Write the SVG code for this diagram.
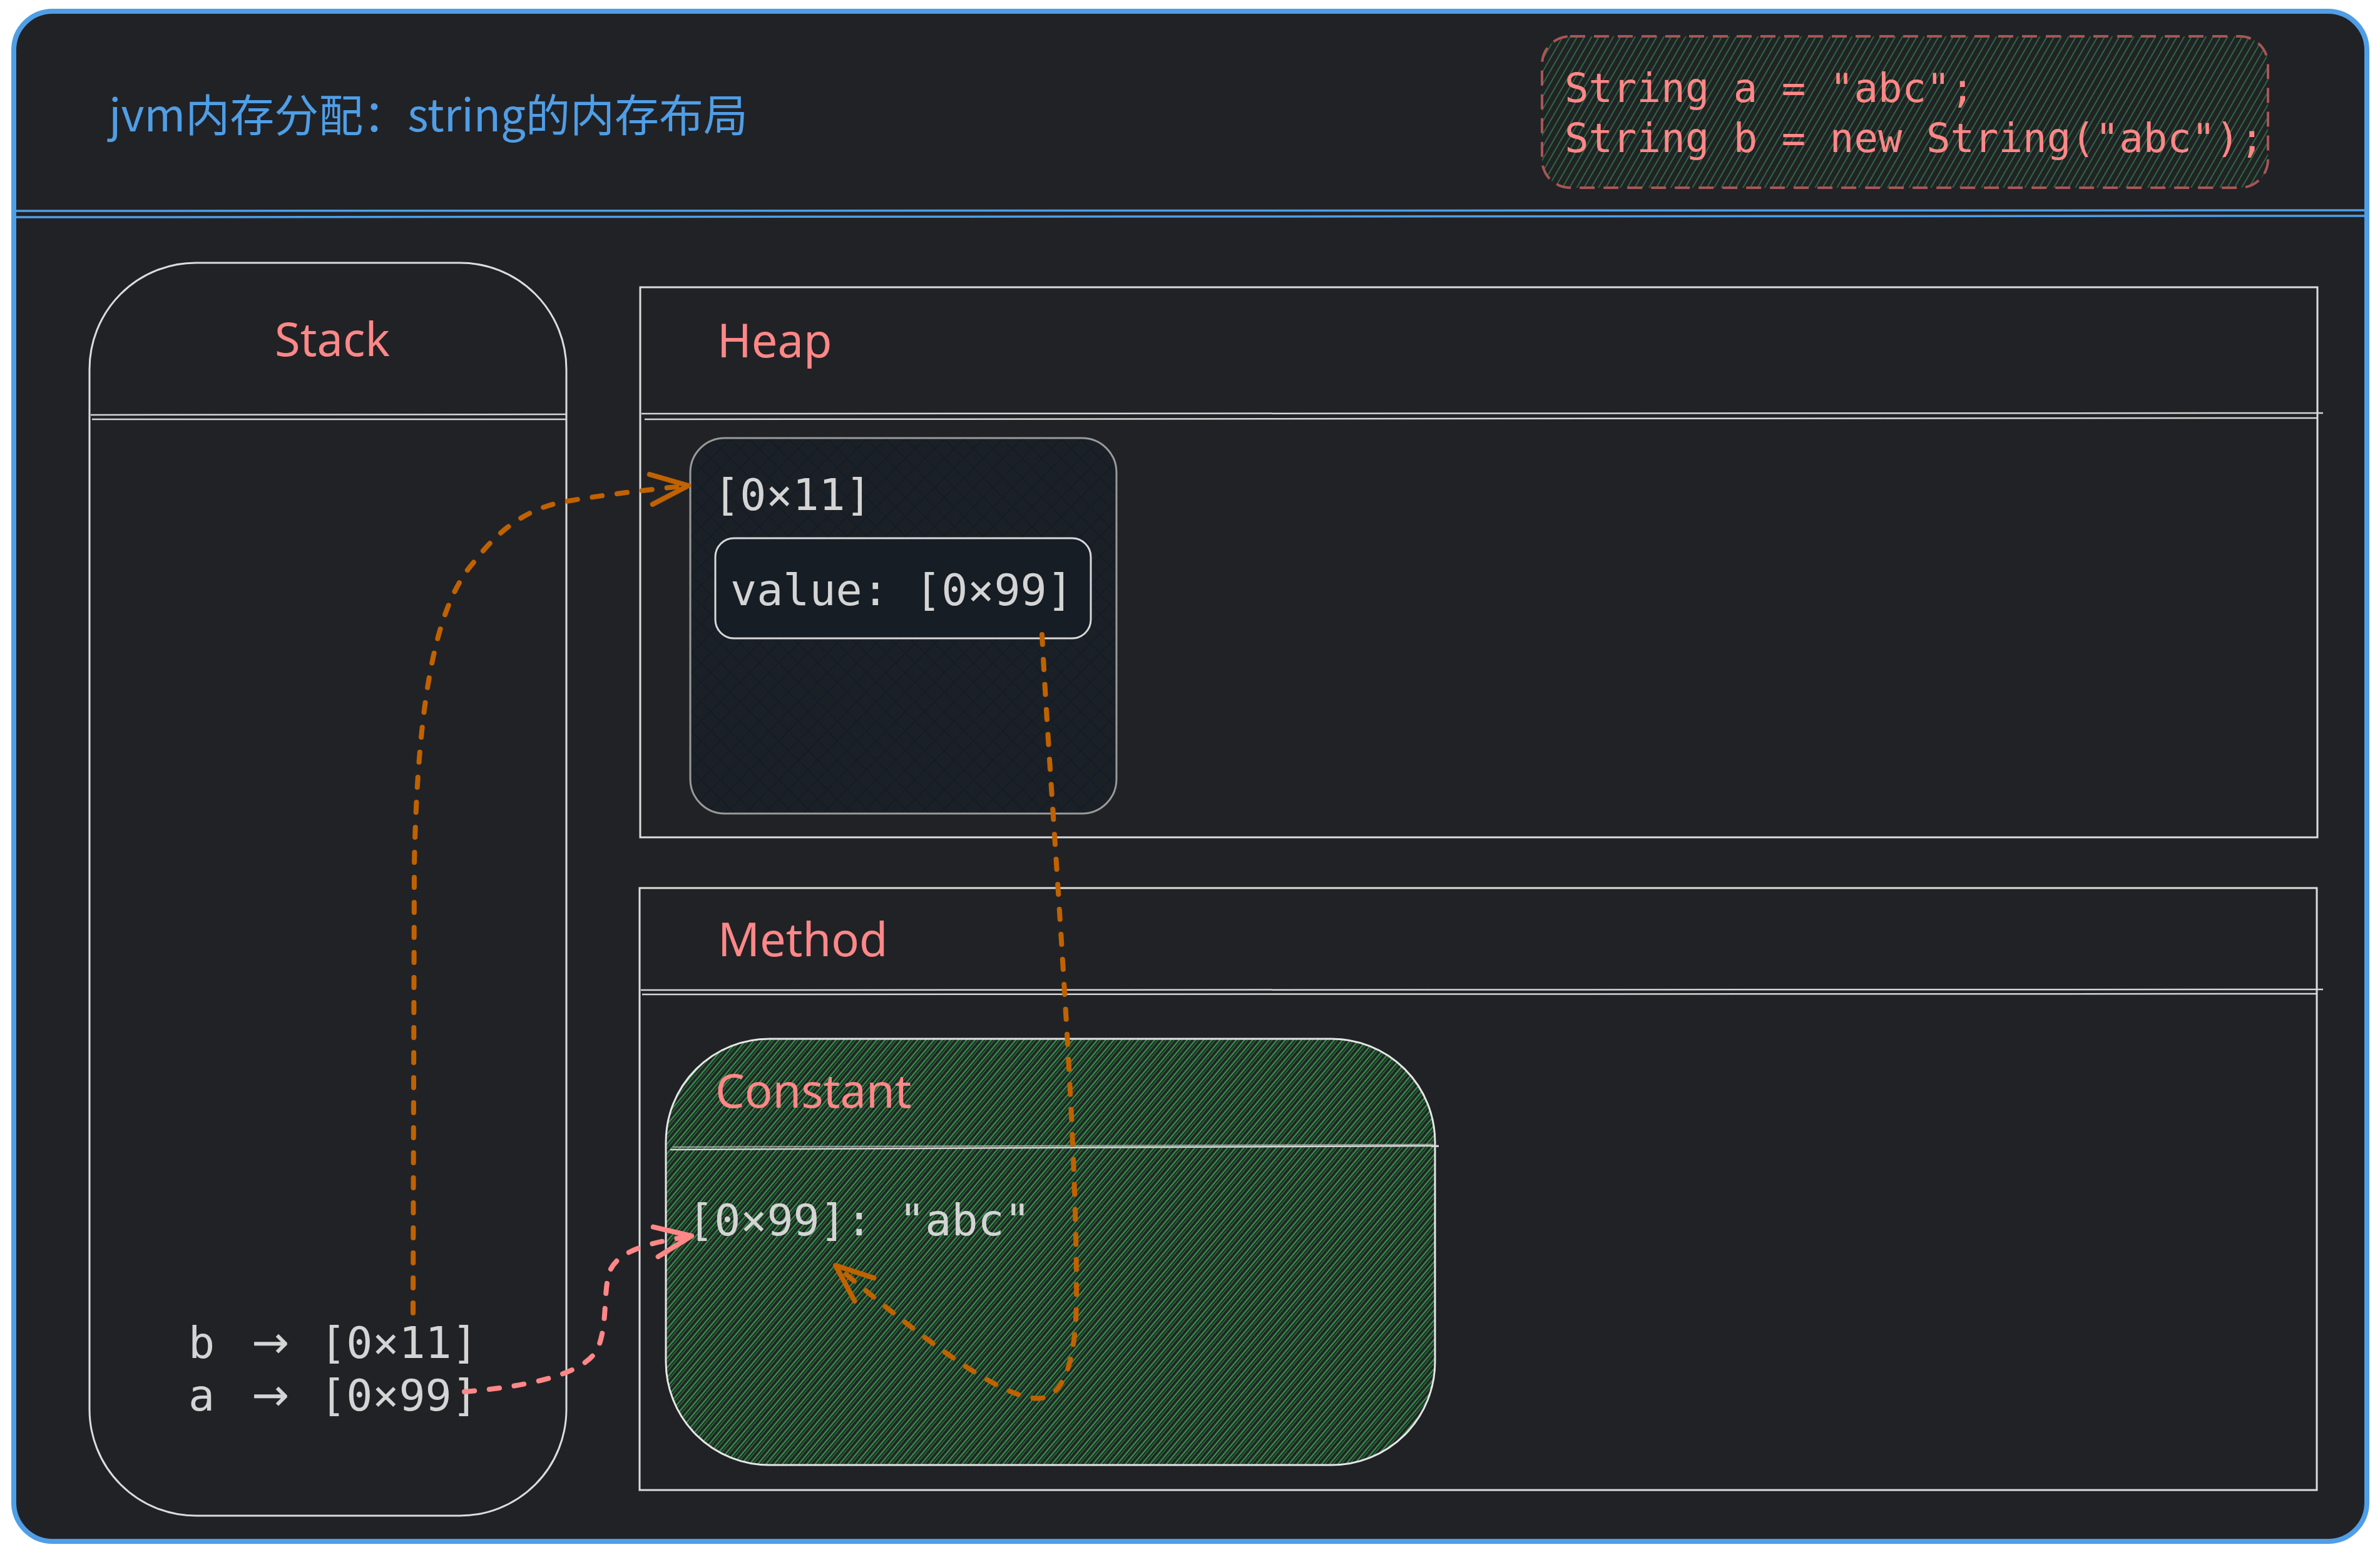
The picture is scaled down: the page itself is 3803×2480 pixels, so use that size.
<svg xmlns="http://www.w3.org/2000/svg" width="3803" height="2480" viewBox="0 0 3803 2480">
  <defs>
    <style>
      .box { fill: none; stroke: #dcdcdc; stroke-width: 3; }
      .rule { stroke: #d6d6d6; stroke-width: 2.5; fill: none; }
      .blue-rule { stroke: #4f9ee6; stroke-width: 3.5; fill: none; }
      .label { font-family: "Noto Sans", "Open Sans", sans-serif; font-size: 74px; fill: #ff8787; }
      .mono { font-family: "DejaVu Sans Mono", "Liberation Mono", monospace; font-size: 70px; fill: #d4d4d4; }
      .arrow-glyph { font-family: "DejaVu Sans", "Liberation Sans", sans-serif; font-size: 72px; }
      .code { font-family: "DejaVu Sans Mono", "Liberation Mono", monospace; font-size: 64px; fill: #ff8787; }
      .title { font-family: "Noto Sans CJK SC", "Noto Sans", sans-serif; font-size: 71px; fill: #4f9ee6; }
      .conn-orange { fill: none; stroke: #c06200; stroke-width: 8; stroke-linecap: round; stroke-dasharray: 16 24; }
      .conn-red { fill: none; stroke: #ff8787; stroke-width: 8; stroke-linecap: round; stroke-dasharray: 16 24; }
      .head-orange { fill: none; stroke: #c06200; stroke-width: 8; stroke-linecap: round; stroke-linejoin: round; }
      .head-red { fill: none; stroke: #ff8787; stroke-width: 8; stroke-linecap: round; stroke-linejoin: round; }
    </style>
    <pattern id="hatch-green" patternUnits="userSpaceOnUse" width="10" height="10" patternTransform="rotate(40)">
      <line x1="1.5" y1="-2" x2="1.5" y2="12" stroke="#33a84a" stroke-width="2"/>
      <line x1="5.5" y1="-2" x2="5.5" y2="12" stroke="#2f9e44" stroke-width="1.3" stroke-opacity="0.75"/>
    </pattern>
    <pattern id="hatch-code" patternUnits="userSpaceOnUse" width="10" height="10" patternTransform="rotate(30)">
      <line x1="2" y1="-2" x2="2" y2="12" stroke="#2d7040" stroke-width="1.8"/>
    </pattern>
    <pattern id="cross-dark" patternUnits="userSpaceOnUse" width="22" height="22" patternTransform="rotate(45)">
      <line x1="0" y1="0" x2="0" y2="22" stroke="#141c25" stroke-width="4"/>
      <line x1="0" y1="0" x2="22" y2="0" stroke="#141c25" stroke-width="4"/>
    </pattern>
    <marker id="ah-orange" markerUnits="userSpaceOnUse" orient="auto" refX="0" refY="0" markerWidth="120" markerHeight="120" viewBox="-80 -60 120 120" overflow="visible">
      <path class="head-orange" d="M-60,-24 L0,0 L-60,24"/>
    </marker>
    <marker id="ah-red" markerUnits="userSpaceOnUse" orient="auto" refX="0" refY="0" markerWidth="120" markerHeight="120" viewBox="-80 -60 120 120" overflow="visible">
      <path class="head-red" d="M-58,-24 L0,0 L-58,24"/>
    </marker>
  </defs>

  <rect x="0" y="0" width="3803" height="2480" fill="#ffffff"/>

  <g id="frame">
    <rect x="22" y="18" width="3760" height="2445" rx="62" ry="62" fill="#212226" stroke="#4f9ee6" stroke-width="8"/>
    <line class="blue-rule" x1="24" y1="337" x2="3780" y2="336"/>
    <line class="blue-rule" x1="24" y1="347" x2="3780" y2="345"/>
  </g>

  <g id="title">
    <text class="title" x="174" y="210">jvm内存分配：string的内存布局</text>
  </g>

  <g id="code">
    <rect x="2464" y="58" width="1160" height="242" rx="45" ry="45" fill="url(#hatch-code)" stroke="#a85656" stroke-width="4" stroke-dasharray="24 14"/>
    <text class="code" x="2500" y="163">String a = "abc";</text>
    <text class="code" x="2500" y="243">String b = new String("abc");</text>
  </g>

  <g id="stack">
    <rect class="box" x="143" y="420" width="762" height="2002" rx="170" ry="170"/>
    <line class="rule" x1="145" y1="663" x2="904" y2="662"/>
    <line class="rule" x1="147" y1="670" x2="906" y2="670"/>
    <text class="label" x="531" y="569" text-anchor="middle">Stack</text>
    <text class="mono"><tspan x="301" y="2170">b </tspan><tspan class="arrow-glyph" x="402" y="2170">→ </tspan><tspan x="511" y="2170">[0×11]</tspan><tspan x="301" y="2254">a </tspan><tspan class="arrow-glyph" x="402" y="2254">→ </tspan><tspan x="511" y="2254">[0×99]</tspan></text>
  </g>

  <g id="heap">
    <rect class="box" x="1023" y="459" width="2680" height="879"/>
    <line class="rule" x1="1025" y1="661" x2="3712" y2="660"/>
    <line class="rule" x1="1030" y1="670" x2="3702" y2="668"/>
    <text class="label" x="1146" y="571">Heap</text>
  </g>

  <g id="heap-object">
    <rect x="1103" y="700" width="681" height="600" rx="55" ry="55" fill="#1b2027" stroke="none"/>
    <rect x="1103" y="700" width="681" height="600" rx="55" ry="55" fill="url(#cross-dark)" stroke="#9a9a9a" stroke-width="3"/>
    <text class="mono" x="1140" y="815">[0×11]</text>
  </g>

  <g id="value-box">
    <rect x="1143" y="860" width="600" height="160" rx="30" ry="30" fill="#161d24" stroke="#d8d8d8" stroke-width="3"/>
    <text class="mono" x="1167" y="967">value: [0×99]</text>
  </g>

  <g id="method">
    <rect class="box" x="1022" y="1419" width="2680" height="962"/>
    <line class="rule" x1="1024" y1="1582" x2="3712" y2="1581"/>
    <line class="rule" x1="1026" y1="1589" x2="3702" y2="1588"/>
    <text class="label" x="1147" y="1528">Method</text>
  </g>

  <g id="constant">
    <rect x="1064" y="1660" width="1229" height="681" rx="165" ry="165" fill="url(#hatch-green)" stroke="#e6e6e6" stroke-width="3"/>
    <line class="rule" x1="1071" y1="1837" x2="2299" y2="1831" stroke="#eeeeee"/>
    <line class="rule" x1="1075" y1="1833" x2="2290" y2="1829" stroke="#eeeeee" stroke-opacity="0.6"/>
    <text class="label" x="1143" y="1770">Constant</text>
    <text class="mono" x="1099" y="1974">[0×99]: "abc"</text>
  </g>

  <g id="connectors">
    <path class="conn-orange" d="M660,2098 L662,1380 C668,1100 700,960 760,895 C785,862 830,815 900,802 C960,791 1040,782 1100,776" marker-end="url(#ah-orange)"/>
    <path class="conn-orange" d="M1665,1014 C1680,1300 1722,1800 1720,2080 C1718,2200 1690,2240 1650,2234 C1580,2225 1440,2110 1335,2022" marker-end="url(#ah-orange)"/>
    <path class="conn-red" d="M742,2224 C850,2215 935,2195 955,2155 C972,2115 963,2060 975,2030 C990,1995 1050,1984 1105,1975" marker-end="url(#ah-red)"/>
  </g>
</svg>
